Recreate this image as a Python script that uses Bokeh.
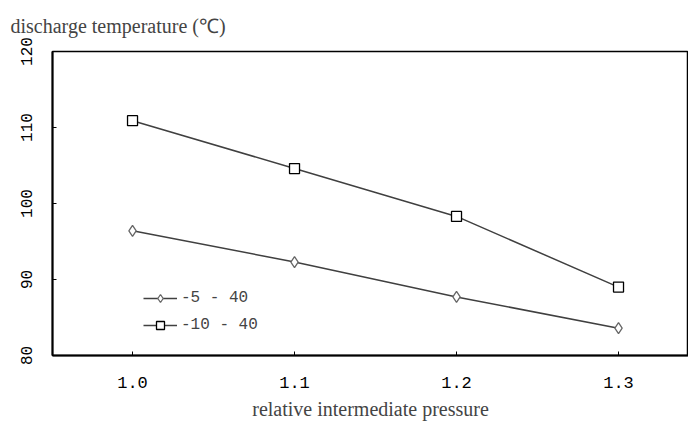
from bokeh.plotting import figure
from bokeh.models import Range1d, FixedTicker, Legend, LegendItem, NumeralTickFormatter
from bokeh.embed import file_html
from bokeh.resources import INLINE

pressure = [1.0, 1.1, 1.2, 1.3]
series_names = ["-5 - 40", "-10 - 40"]
temp_m5 = [96.4, 92.3, 87.7, 83.6]
temp_m10 = [110.9, 104.6, 98.3, 89.0]
y_ticks = [80, 90, 100, 110, 120]
x_ticks = [1.0, 1.1, 1.2, 1.3]
y_title = "discharge temperature (℃)"

p = figure(width=688, height=422, output_backend="svg", toolbar_location=None,
           x_range=Range1d(0.9506, 1.3432), y_range=Range1d(80, 120),
           min_border_left=52, min_border_right=0, min_border_top=51, min_border_bottom=10,
           title=y_title)
p.title.text_font = "Liberation Serif"
p.title.text_font_size = "20px"
p.title.text_font_style = "normal"
p.title.align = "left"
p.title.vertical_align = "top"
p.title.offset = -42
p.title.standoff = 26

p.xgrid.visible = False
p.ygrid.visible = False
p.outline_line_color = "black"
p.outline_line_width = 1.5
p.outline_line_alpha = 1.0

for ax in (p.xaxis[0], p.yaxis[0]):
    ax.axis_line_color = "black"
    ax.axis_line_width = 2
    ax.major_tick_in = 4
    ax.major_tick_out = 0
    ax.minor_tick_line_color = None
    ax.major_tick_line_color = "black"
    ax.major_label_text_font = "Liberation Mono"
    ax.major_label_text_color = "black"

p.yaxis.ticker = FixedTicker(ticks=y_ticks)
p.yaxis.major_label_orientation = "vertical"
p.yaxis.major_label_standoff = 21
p.yaxis.major_label_text_font_size = "16px"

p.xaxis.ticker = FixedTicker(ticks=x_ticks)
p.xaxis.formatter = NumeralTickFormatter(format="0.0")
p.xaxis.major_label_standoff = 21
p.xaxis.major_label_text_font_size = "17px"
p.xaxis.axis_label = "relative intermediate pressure"
p.xaxis.axis_label_text_font = "Liberation Serif"
p.xaxis.axis_label_text_font_size = "20px"
p.xaxis.axis_label_text_font_style = "normal"
p.xaxis.axis_label_standoff = 7

l1 = p.line(pressure, temp_m5, line_color="#404040", line_width=1.5)
m1 = p.scatter(pressure, temp_m5, marker="diamond", size=11, line_color="#666666",
               fill_color="white", line_width=1.3)
l2 = p.line(pressure, temp_m10, line_color="#404040", line_width=1.5)
m2 = p.scatter(pressure, temp_m10, marker="square", size=10, line_color="black",
               fill_color="white", line_width=1.3)

legend = Legend(items=[LegendItem(label=series_names[0], renderers=[l1, m1]),
                       LegendItem(label=series_names[1], renderers=[l2, m2])],
                location=(91, 20))
legend.border_line_color = None
legend.background_fill_alpha = 0
legend.padding = 0
legend.margin = 0
legend.spacing = 7
legend.glyph_width = 34
legend.glyph_height = 20
legend.label_height = 20
legend.label_standoff = 4
legend.label_text_font = "Liberation Mono"
legend.label_text_font_size = "16px"
p.add_layout(legend, "center")

open("out.html", "w").write(file_html(p, INLINE))
